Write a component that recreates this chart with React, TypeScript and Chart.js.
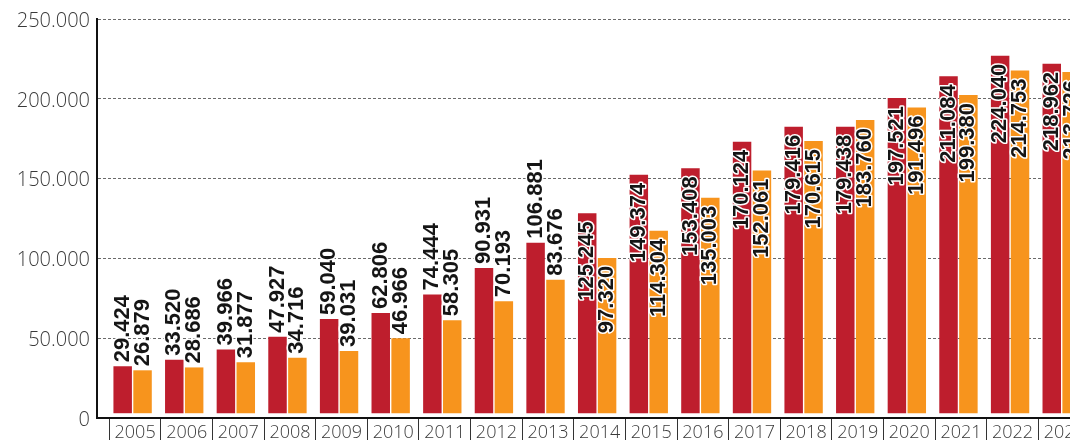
import React, { useEffect, useRef } from 'react';
import { Chart, registerables } from 'chart.js';

Chart.register(...registerables);

// ---- data ----
const years = ['2005', '2006', '2007', '2008', '2009', '2010', '2011', '2012', '2013', '2014',
  '2015', '2016', '2017', '2018', '2019', '2020', '2021', '2022', '2023'];
const seriesRed = [29424, 33520, 39966, 47927, 59040, 62806, 74444, 90931, 106881, 125245,
  149374, 153408, 170124, 179416, 179438, 197521, 211084, 224040, 218962];
const seriesOrange = [26879, 28686, 31877, 34716, 39031, 46966, 58305, 70193, 83676, 97320,
  114304, 135003, 152061, 170615, 183760, 191496, 199380, 214753, 213726];
const yTicks = [0, 50000, 100000, 150000, 200000, 250000];
const labelsInsideFrom = '2014';

const RED = '#BE1E2D';
const ORANGE = '#F7941D';
const W = 1100;
const H = 460;

function fmt(v: number): string {
  return String(v).replace(/\B(?=(\d{3})+(?!\d))/g, '.');
}

export default function App() {
  const ref = useRef<HTMLCanvasElement>(null);

  useEffect(() => {
    const canvas = ref.current;
    if (!canvas) return;

    const shiftPlugin = {
      id: 'shiftCategories',
      afterLayout(chart: any) {
        const x = chart.scales.x;
        const xb = chart.scales.xb;
        x._startPixel = x.left + 12.3;
        x._length = x._endPixel - x._startPixel;
        xb._startPixel = x._startPixel - 2.5;
        xb._endPixel = x._endPixel - 2.5;
        xb._length = x._length;
      },
    };

    const insideIdx = years.indexOf(labelsInsideFrom);
    const labelPlugin = {
      id: 'verticalLabels',
      afterDatasetsDraw(chart: any) {
        const ctx = chart.ctx as CanvasRenderingContext2D;
        chart.data.datasets.forEach((ds: any, di: number) => {
          const meta = chart.getDatasetMeta(di);
          meta.data.forEach((bar: any, i: number) => {
            const txt = fmt(ds.data[i]);
            const inside = i >= insideIdx;
            ctx.save();
            ctx.translate(bar.x, inside ? bar.y + 8 : bar.y - 4);
            ctx.rotate(-Math.PI / 2);
            ctx.font = 'bold 22px "Liberation Sans", Arial, sans-serif';
            ctx.textAlign = inside ? 'right' : 'left';
            ctx.textBaseline = 'middle';
            ctx.lineJoin = 'round';
            ctx.lineWidth = 3;
            ctx.strokeStyle = '#ffffff';
            ctx.strokeText(txt, 0, 0);
            ctx.fillStyle = '#151515';
            ctx.fillText(txt, 0, 0);
            ctx.restore();
          });
        });
      },
    };

    const chart = new Chart(canvas, {
      type: 'bar',
      data: {
        labels: years,
        datasets: [
          { data: seriesRed, backgroundColor: RED, xAxisID: 'xb', yAxisID: 'yb',
            categoryPercentage: 0.77, barPercentage: 0.93, borderWidth: 0 },
          { data: seriesOrange, backgroundColor: ORANGE, xAxisID: 'xb', yAxisID: 'yb',
            categoryPercentage: 0.77, barPercentage: 0.93, borderWidth: 0 },
        ],
      },
      options: {
        responsive: false,
        animation: false,
        devicePixelRatio: 1,
        layout: { padding: { left: 0, right: 10, top: 18, bottom: 0 } },
        plugins: { legend: { display: false }, tooltip: { enabled: false }, title: { display: false } },
        scales: {
          x: {
            type: 'category',
            position: 'bottom',
            offset: true,
            grid: {
              offset: true,
              drawOnChartArea: false,
              drawTicks: true,
              tickLength: 30,
              color: '#333333',
              lineWidth: 1,
            },
            border: { display: true, color: '#111111', width: 2 },
            ticks: {
              autoSkip: false,
              maxRotation: 0,
              minRotation: 0,
              padding: -26,
              color: '#3a3a3a',
              font: { family: '"Open Sans", sans-serif', size: 18, weight: '300' },
            },
            afterFit: (s: any) => { s.height = 42; },
          },
          xb: {
            type: 'category',
            display: false,
            offset: true,
            grid: { offset: true },
          },
          y: {
            type: 'linear',
            position: 'left',
            min: 0,
            max: 250000,
            afterBuildTicks: (s: any) => { s.ticks = yTicks.map((v) => ({ value: v })); },
            grid: {
              drawTicks: false,
              color: (c: any) => (c.tick && c.tick.value === 0 ? 'rgba(0,0,0,0)' : '#6a6a6a'),
              lineWidth: 1,
            },
            border: { display: true, color: '#111111', width: 2, dash: [3, 2] },
            ticks: {
              padding: 7,
              labelOffset: 2,
              color: '#3a3a3a',
              font: { family: '"Open Sans", sans-serif', size: 20, weight: '300' },
              callback: (v: any) => (Number(v) === 0 ? '0' : fmt(Number(v))),
            },
            afterFit: (s: any) => { s.width = 97; },
          },
          yb: {
            type: 'linear',
            display: false,
            min: -3000,
            max: 247000,
          },
        },
      },
      plugins: [shiftPlugin, labelPlugin],
    } as any);

    return () => { chart.destroy(); };
  }, []);

  return (
    <div style={{ position: 'absolute', left: 0, top: 0, width: 1070, height: 440, overflow: 'hidden', background: '#fff' }}>
      <canvas ref={ref} width={W} height={H} style={{ display: 'block', width: W, height: H }} />
    </div>
  );
}
